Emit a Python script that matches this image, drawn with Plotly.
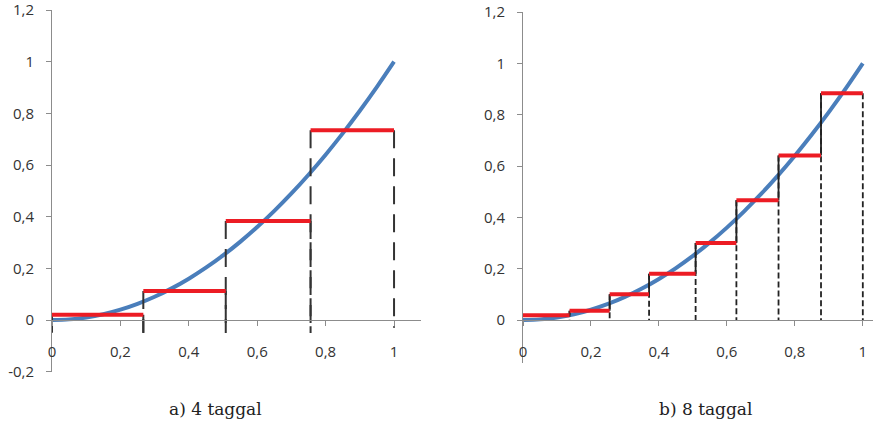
import plotly.graph_objects as go

# y = x^2 curve, sampled points
curve_x = [0, 0.05, 0.1, 0.15, 0.2, 0.25, 0.3, 0.35, 0.4, 0.45, 0.5,
           0.55, 0.6, 0.65, 0.7, 0.75, 0.8, 0.85, 0.9, 0.95, 1.0]
curve_y = [0, 0.0025, 0.01, 0.0225, 0.04, 0.0625, 0.09, 0.1225, 0.16, 0.2025, 0.25,
           0.3025, 0.36, 0.4225, 0.49, 0.5625, 0.64, 0.7225, 0.81, 0.9025, 1.0]

# step approximation with 4 pieces
edges4 = [0, 0.267, 0.508, 0.756, 1.0]
heights4 = [0.02, 0.112, 0.383, 0.735]

# step approximation with 8 pieces
edges8 = [0, 0.137, 0.255, 0.371, 0.508, 0.628, 0.752, 0.877, 1.0]
heights8 = [0.019, 0.036, 0.10, 0.18, 0.30, 0.467, 0.641, 0.883]

y_ticks_a = [-0.2, 0, 0.2, 0.4, 0.6, 0.8, 1.0, 1.2]
y_labels_a = ["-0,2", "0", "0,2", "0,4", "0,6", "0,8", "1", "1,2"]
y_ticks_b = [0, 0.2, 0.4, 0.6, 0.8, 1.0, 1.2]
y_labels_b = ["0", "0,2", "0,4", "0,6", "0,8", "1", "1,2"]
x_ticks = [0, 0.2, 0.4, 0.6, 0.8, 1.0]
x_labels = ["0", "0,2", "0,4", "0,6", "0,8", "1"]

captions = ["a) 4 taggal", "b) 8 taggal"]

BLUE = "#4a7ebb"
RED = "#ec1c24"
AXIS = "#8c8c8c"
TXT = "#333333"

fig = go.Figure()


def steps(edges, heights):
    xs, ys = [], []
    for i, h in enumerate(heights):
        xs += [edges[i], edges[i + 1], None]
        ys += [h, h, None]
    return xs, ys


# ---- panel a ----
fig.add_trace(go.Scatter(x=curve_x, y=curve_y, mode="lines", xaxis="x", yaxis="y",
                         line=dict(color=BLUE, width=4, shape="spline")))

# drop lines from both ends of every step, down past the axis
vx, vy = [], []
for i, h in enumerate(heights4):
    for e in (edges4[i], edges4[i + 1]):
        bottom = -0.03 if e == edges4[-1] else -0.05
        vx += [e, e, None]
        vy += [h, bottom, None]
fig.add_trace(go.Scatter(x=vx, y=vy, mode="lines", xaxis="x", yaxis="y",
                         line=dict(color="#333333", width=2, dash="18px,10px")))

sx, sy = steps(edges4, heights4)
fig.add_trace(go.Scatter(x=sx, y=sy, mode="lines", xaxis="x", yaxis="y",
                         line=dict(color=RED, width=4)))

# ---- panel b ----
fig.add_trace(go.Scatter(x=curve_x, y=curve_y, mode="lines", xaxis="x2", yaxis="y2",
                         line=dict(color=BLUE, width=4, shape="spline")))

dx, dy, rx, ry = [], [], [], []
for j in range(1, len(edges8)):
    left = heights8[j - 1]
    right = heights8[j] if j < len(heights8) else heights8[j - 1]
    top, low = max(left, right), min(left, right)
    dx += [edges8[j], edges8[j], None]
    dy += [top, 0, None]
    if top > low:
        rx += [edges8[j], edges8[j], None]
        ry += [top, low, None]
fig.add_trace(go.Scatter(x=dx, y=dy, mode="lines", xaxis="x2", yaxis="y2",
                         line=dict(color="#222222", width=1.8, dash="6px,3px")))
fig.add_trace(go.Scatter(x=rx, y=ry, mode="lines", xaxis="x2", yaxis="y2",
                         line=dict(color="#222222", width=1.8)))

sx, sy = steps(edges8, heights8)
fig.add_trace(go.Scatter(x=sx, y=sy, mode="lines", xaxis="x2", yaxis="y2",
                         line=dict(color=RED, width=4)))

W, H = 873, 424
tickfont = dict(family="Open Sans", size=15, color=TXT)

xa_common = dict(showgrid=False, zeroline=False, showline=True, linecolor=AXIS, linewidth=1,
                 ticks="outside", ticklen=5, tickcolor=AXIS, tickvals=x_ticks, ticktext=x_labels,
                 tickfont=tickfont, anchor="free", position=(H - 320) / H,
                 ticklabelstandoff=13, ticklabeloverflow="allow",
                 fixedrange=True, automargin=False)
ya_common = dict(showgrid=False, zeroline=False, showline=True, linecolor=AXIS, linewidth=1,
                 ticks="outside", ticklen=5, tickcolor=AXIS, tickfont=tickfont,
                 ticklabelstandoff=9, ticklabeloverflow="allow",
                 fixedrange=True, automargin=False)

cap_font = dict(family="DejaVu Serif", size=17, color="#222222")

fig.update_layout(
    width=W, height=H,
    margin=dict(l=0, r=0, t=0, b=0, autoexpand=False),
    paper_bgcolor="white", plot_bgcolor="white",
    showlegend=False,
    xaxis=dict(xa_common, domain=[52 / W, 421.4 / W], range=[0, 1.08]),
    yaxis=dict(ya_common, domain=[(H - 371.8) / H, (H - 9.9) / H], range=[-0.2004, 1.2004],
               anchor="x", tickvals=y_ticks_a, ticktext=y_labels_a),
    xaxis2=dict(xa_common, domain=[523 / W, 1.0], range=[0, 1.03]),
    yaxis2=dict(ya_common, domain=[(H - 363) / H, (H - 11.9) / H], range=[-0.1675, 1.2004],
                anchor="x2", tickvals=y_ticks_b, ticktext=y_labels_b),
    annotations=[
        dict(text=captions[0], x=215 / W, y=(H - 409) / H, xref="paper", yref="paper",
             xanchor="center", yanchor="middle", showarrow=False, font=cap_font),
        dict(text=captions[1], x=705 / W, y=(H - 409) / H, xref="paper", yref="paper",
             xanchor="center", yanchor="middle", showarrow=False, font=cap_font),
    ],
)

fig.write_html("out.html")
